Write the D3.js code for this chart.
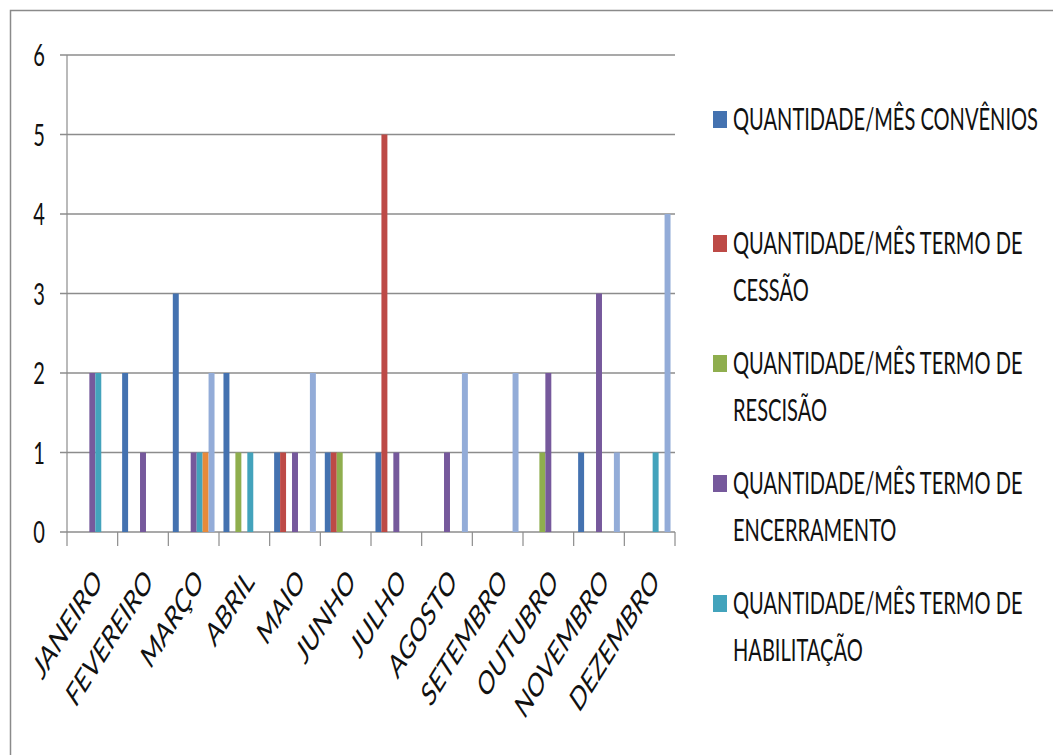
<!DOCTYPE html>
<html>
<head>
<meta charset="utf-8">
<script src="https://cdn.jsdelivr.net/npm/d3@7"></script>
<style>
  body { margin: 0; background: #fff; }
  text { font-family: Lato, "Open Sans", sans-serif; fill: #111; }
</style>
</head>
<body>
<svg id="chart" width="1053" height="755"></svg>
<script>
// Monthly counts per document type
const months = ["JANEIRO", "FEVEREIRO", "MARÇO", "ABRIL", "MAIO", "JUNHO",
                "JULHO", "AGOSTO", "SETEMBRO", "OUTUBRO", "NOVEMBRO", "DEZEMBRO"];
const convenios    = [0, 2, 3, 2, 1, 1, 1, 0, 0, 0, 1, 0];
const cessao       = [0, 0, 0, 0, 1, 1, 5, 0, 0, 0, 0, 0];
const rescisao     = [0, 0, 0, 1, 0, 1, 0, 0, 0, 1, 0, 0];
const encerramento = [2, 1, 1, 0, 1, 0, 1, 1, 0, 2, 3, 0];
const habilitacao  = [2, 0, 1, 1, 0, 0, 0, 0, 0, 0, 0, 1];
const serie6       = [0, 0, 1, 0, 0, 0, 0, 0, 0, 0, 0, 0];
const serie7       = [0, 0, 2, 0, 2, 0, 0, 2, 2, 0, 1, 4];
const yTicks = [0, 1, 2, 3, 4, 5, 6];

const seriesKeys   = ["convenios", "cessao", "rescisao", "encerramento", "habilitacao", "serie6", "serie7"];
const seriesValues = [convenios, cessao, rescisao, encerramento, habilitacao, serie6, serie7];
const seriesColors = ["#4472b0", "#bd4a46", "#8fae4e", "#76599c", "#43a3bc", "#e88a3a", "#93acd8"];

const legendLabels = [
  ["QUANTIDADE/MÊS CONVÊNIOS"],
  ["QUANTIDADE/MÊS TERMO DE", "CESSÃO"],
  ["QUANTIDADE/MÊS TERMO DE", "RESCISÃO"],
  ["QUANTIDADE/MÊS TERMO DE", "ENCERRAMENTO"],
  ["QUANTIDADE/MÊS TERMO DE", "HABILITAÇÃO"]
];

const svg = d3.select("#chart");
const FS = 31;
const plotLeft = 67, plotRight = 675, plotTop = 55, plotBottom = 532;

function measure(str, size) {
  const t = svg.append("text").attr("font-size", size).text(str);
  const w = t.node().getComputedTextLength();
  t.remove();
  return w;
}

// Condensed text: horizontal squeeze factor
const sx = 305 / measure(legendLabels[0][0], FS);

// Month labels: slanted, steep direction (~58° on screen)
const screenAngle = 58 * Math.PI / 180;
const theta = Math.atan(sx * Math.tan(screenAngle));
const lenFactor = Math.hypot(sx * Math.cos(theta), Math.sin(theta));
const xFS = FS * 162 / (lenFactor * measure("NOVEMBRO", FS));
const thetaDeg = theta * 180 / Math.PI;

// Outer frame
svg.append("rect")
  .attr("x", 10.5).attr("y", 10.5).attr("width", 1080).attr("height", 800)
  .attr("fill", "none").attr("stroke", "#8a8a8a").attr("stroke-width", 1.5);

const x0 = d3.scaleBand().domain(months).range([plotLeft, plotRight]).padding(0);
const x1 = d3.scaleBand().domain(seriesKeys).range([0, x0.bandwidth()])
  .paddingInner(0).paddingOuter(0.75);
const y = d3.scaleLinear().domain([0, 6]).range([plotBottom, plotTop]);

// Horizontal gridlines with outward tick stubs
svg.append("g").selectAll("line").data(yTicks).join("line")
  .attr("x1", plotLeft - 7).attr("x2", plotRight)
  .attr("y1", d => y(d)).attr("y2", d => y(d))
  .attr("stroke", "#8c8c8c").attr("stroke-width", 1.5);

// Value axis line
svg.append("line")
  .attr("x1", plotLeft).attr("x2", plotLeft).attr("y1", plotTop).attr("y2", plotBottom)
  .attr("stroke", "#8c8c8c").attr("stroke-width", 1.2);

// Category tick marks
const tickPos = months.map(m => x0(m)).concat([plotRight]);
svg.append("g").selectAll("line").data(tickPos).join("line")
  .attr("x1", d => d).attr("x2", d => d)
  .attr("y1", plotBottom).attr("y2", plotBottom + 14)
  .attr("stroke", "#8c8c8c").attr("stroke-width", 1.2);

// Y labels
svg.append("g").selectAll("text").data(yTicks).join("text")
  .attr("transform", d => `translate(45,${y(d)}) scale(${sx},1)`)
  .attr("text-anchor", "end").attr("dy", "0.36em")
  .attr("font-size", FS)
  .text(d => d);

// Bars
const groups = svg.append("g").selectAll("g").data(months).join("g")
  .attr("transform", d => `translate(${x0(d)},0)`);
groups.selectAll("rect")
  .data((m, i) => seriesKeys.map((k, s) => ({ key: k, value: seriesValues[s][i], color: seriesColors[s] })))
  .join("rect")
  .attr("x", d => x1(d.key))
  .attr("width", x1.bandwidth())
  .attr("y", d => y(d.value))
  .attr("height", d => y(0) - y(d.value))
  .attr("fill", d => d.color);

// Slanted month labels
svg.append("g").selectAll("text").data(months).join("text")
  .attr("transform", d => `translate(${x0(d) + x0.bandwidth() / 2 + 11},583) scale(${sx},1) rotate(${-thetaDeg})`)
  .attr("text-anchor", "end")
  .attr("font-size", xFS)
  .text(d => d);

// Legend
const legendBase = [130, 254, 374, 494, 614];
const lineGap = 47;
const lg = svg.append("g").selectAll("g").data(legendLabels).join("g")
  .attr("transform", (d, i) => `translate(0,${legendBase[i]})`);
lg.append("rect")
  .attr("x", 713).attr("y", -19).attr("width", 14).attr("height", 17)
  .attr("fill", (d, i) => seriesColors[i]);
lg.each(function (lines) {
  d3.select(this).selectAll("text").data(lines).join("text")
    .attr("transform", (t, j) => `translate(733,${j * lineGap}) scale(${sx},1)`)
    .attr("font-size", FS)
    .text(t => t);
});
</script>
</body>
</html>
